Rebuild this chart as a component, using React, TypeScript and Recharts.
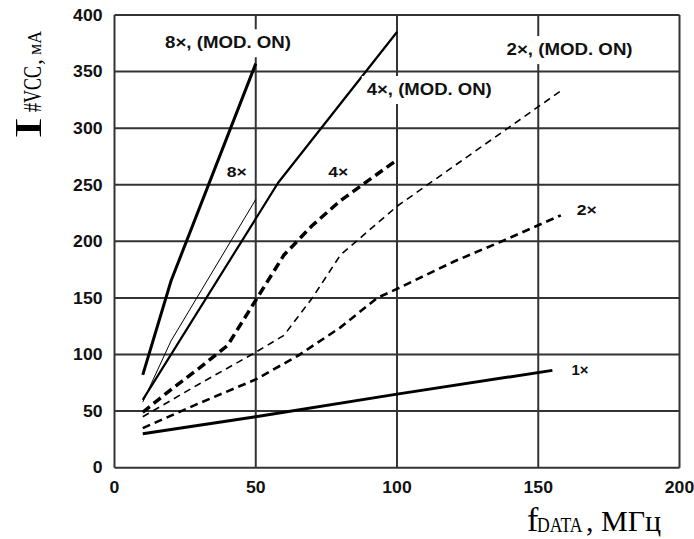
import React from "react";
import {
  LineChart,
  Line,
  XAxis,
  YAxis,
  CartesianGrid,
  ReferenceDot,
  Customized,
} from "recharts";

// ---- data (frequency in MHz, current in mA) ----
const xTicks = [0, 50, 100, 150, 200];
const yTicks = [0, 50, 100, 150, 200, 250, 300, 350, 400];

const mod8X = [10, 20, 50];
const mod8Y = [82, 165, 357];

const x8X = [10, 20, 50];
const x8Y = [58, 112, 237];

const mod4X = [10, 58, 100];
const mod4Y = [60, 252, 385];

const x4X = [10, 20, 30, 40, 50, 60, 70, 80, 100];
const x4Y = [49, 69, 88, 108, 148, 188, 214, 236, 272];

const mod2X = [10, 30, 50, 60, 70, 80, 100, 158];
const mod2Y = [45, 74, 102, 117, 150, 188, 231, 333];

const x2X = [10, 30, 50, 65, 80, 93, 100, 120, 138, 158];
const x2Y = [35, 57, 78, 99, 124, 150, 158, 182, 201, 223];

const x1X = [10, 50, 100, 155];
const x1Y = [30, 45, 65, 86];

const labelTexts = ["8×, (MOD. ON)", "2×, (MOD. ON)", "4×, (MOD. ON)", "8×", "4×", "2×", "1×"];
const labelX = [17.9, 138.8, 89.3, 39.7, 75.7, 163.6, 161.8];
const labelY = [370.6, 364.6, 329.3, 256.9, 256.9, 223.3, 81.9];

const zip = (xs: number[], ys: number[]) => xs.map((x, i) => ({ x, y: ys[i] }));

const SANS = "'Liberation Sans', Arial, sans-serif";
const SERIF = "'Liberation Serif', 'Times New Roman', serif";

const labelStyle = [
  { w: 126, size: 16, bg: true },
  { w: 126, size: 16, bg: true },
  { w: 125, size: 16, bg: true },
  { w: 20, size: 14, bg: false },
  { w: 20, size: 14, bg: false },
  { w: 20, size: 14, bg: false },
  { w: 17, size: 14, bg: false },
];

const LabelBox = (props: any) => {
  const { viewBox, text, w, size, bg } = props;
  const x = viewBox.x;
  const y = viewBox.y;
  return (
    <g>
      {bg && <rect x={x - 5} y={y - size - 3} width={w + 10} height={size + 12} fill="#fff" />}
      <text
        x={x}
        y={y}
        fontSize={size}
        fontWeight="bold"
        fontFamily={SANS}
        fill="#111"
        textLength={w}
        lengthAdjust="spacingAndGlyphs"
      >
        {text}
      </text>
    </g>
  );
};

const tickLen = (v: number) => String(v).length * 9.8;

const YTick = (props: any) => {
  const { x, y, payload } = props;
  const w = tickLen(payload.value);
  return (
    <text x={x - w} y={y} dy="0.36em" fontSize={16} fontWeight="bold" fontFamily={SANS} fill="#111" textLength={w} lengthAdjust="spacingAndGlyphs">
      {payload.value}
    </text>
  );
};

const XTick = (props: any) => {
  const { x, y, payload } = props;
  const w = tickLen(payload.value);
  return (
    <text x={x - w / 2} y={y} dy="0.71em" fontSize={16} fontWeight="bold" fontFamily={SANS} fill="#111" textLength={w} lengthAdjust="spacingAndGlyphs">
      {payload.value}
    </text>
  );
};

const AxisTitles = () => (
  <g fill="#000" fontFamily={SERIF}>
    <text transform="translate(41,139) rotate(-90)" fontSize={38} textLength={22} lengthAdjust="spacingAndGlyphs">I</text>
    <text transform="translate(41,112) rotate(-90)" fontSize={25} textLength={46} lengthAdjust="spacingAndGlyphs">#VCC</text>
    <text transform="translate(41,65) rotate(-90)" fontSize={24}>,</text>
    <text transform="translate(41,55) rotate(-90)" fontSize={18} textLength={24} lengthAdjust="spacingAndGlyphs">мА</text>
    <text x={527} y={530.7} fontSize={34}>f</text>
    <text transform="translate(537,532) scale(0.8,1)" fontSize={22}>DATA</text>
    <text x={586} y={530.7} fontSize={30}>, МГц</text>
  </g>
);

export default function App() {
  return (
    <div style={{ position: "absolute", left: 0, top: 0, width: 694, height: 539, background: "#fff" }}>
      <LineChart width={694} height={539} margin={{ top: 15, right: 14.5, left: 54.5, bottom: 31.3 }}>
        <CartesianGrid stroke="#333" strokeWidth={2} horizontalValues={yTicks} verticalValues={xTicks} />
        <XAxis
          type="number"
          dataKey="x"
          domain={[0, 200]}
          ticks={xTicks}
          axisLine={false}
          tickLine={false}
          tickSize={0}
          tickMargin={13.8}
          height={40}
          tick={<XTick />}
          interval={0}
        />
        <YAxis
          type="number"
          dataKey="y"
          domain={[0, 400]}
          ticks={yTicks}
          axisLine={false}
          tickLine={false}
          tickSize={0}
          tickMargin={12}
          width={60}
          tick={<YTick />}
          interval={0}
        />
        <Line data={zip(x1X, x1Y)} dataKey="y" type="linear" stroke="#000" strokeWidth={3} dot={false} isAnimationActive={false} />
        <Line data={zip(x2X, x2Y)} dataKey="y" type="linear" stroke="#000" strokeWidth={2.6} strokeDasharray="8 5" dot={false} isAnimationActive={false} />
        <Line data={zip(mod2X, mod2Y)} dataKey="y" type="linear" stroke="#000" strokeWidth={1.6} strokeDasharray="7 5" dot={false} isAnimationActive={false} />
        <Line data={zip(x4X, x4Y)} dataKey="y" type="linear" stroke="#000" strokeWidth={3.5} strokeDasharray="9 5" dot={false} isAnimationActive={false} />
        <Line data={zip(mod4X, mod4Y)} dataKey="y" type="linear" stroke="#000" strokeWidth={2.2} dot={false} isAnimationActive={false} />
        <Line data={zip(x8X, x8Y)} dataKey="y" type="linear" stroke="#000" strokeWidth={1} dot={false} isAnimationActive={false} />
        <Line data={zip(mod8X, mod8Y)} dataKey="y" type="linear" stroke="#000" strokeWidth={3} dot={false} isAnimationActive={false} />
        {labelTexts.map((t, i) => (
          <ReferenceDot
            key={t + i}
            x={labelX[i]}
            y={labelY[i]}
            r={0.01}
            fill="none"
            stroke="none"
            ifOverflow="visible"
            label={(p: any) => <LabelBox viewBox={p.viewBox} text={t} {...labelStyle[i]} />}
          />
        ))}
        <Customized component={AxisTitles} />
      </LineChart>
    </div>
  );
}
